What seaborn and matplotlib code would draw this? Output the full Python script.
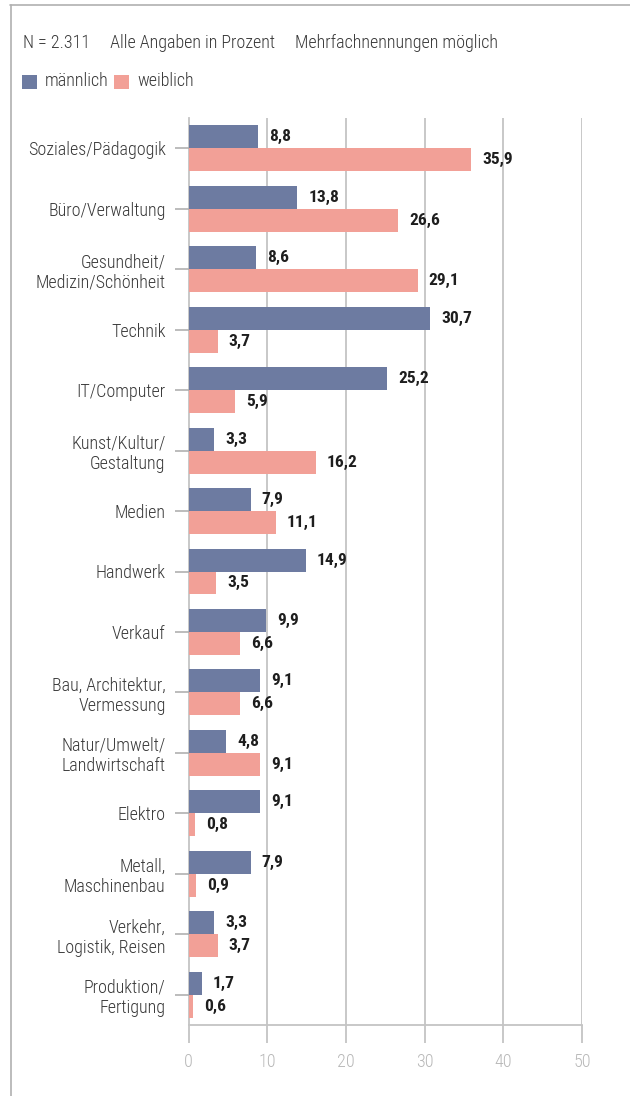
import matplotlib
matplotlib.use("Agg")
import matplotlib.pyplot as plt
from matplotlib import font_manager
from matplotlib.font_manager import FontProperties
from matplotlib.lines import Line2D
from matplotlib.patches import Rectangle
import seaborn as sns
import pandas as pd
import os

categories = [
    "Soziales/Pädagogik", "Büro/Verwaltung", "Gesundheit/\nMedizin/Schönheit",
    "Technik", "IT/Computer", "Kunst/Kultur/\nGestaltung", "Medien", "Handwerk",
    "Verkauf", "Bau, Architektur,\nVermessung", "Natur/Umwelt/\nLandwirtschaft",
    "Elektro", "Metall,\nMaschinenbau", "Verkehr,\nLogistik, Reisen",
    "Produktion/\nFertigung",
]
maennlich = [8.8, 13.8, 8.6, 30.7, 25.2, 3.3, 7.9, 14.9, 9.9, 9.1, 4.8, 9.1, 7.9, 3.3, 1.7]
weiblich = [35.9, 26.6, 29.1, 3.7, 5.9, 16.2, 11.1, 3.5, 6.6, 6.6, 9.1, 0.8, 0.9, 3.7, 0.6]
series = ["männlich", "weiblich"]
colors = ["#6d7ba1", "#f2a097"]
x_ticks = [0, 10, 20, 30, 40, 50]
subtitle = "N = 2.311     Alle Angaben in Prozent     Mehrfachnennungen möglich"


def find_font(patterns):
    files = {os.path.basename(f.fname).lower(): f.fname for f in font_manager.fontManager.ttflist}
    for p in patterns:
        for b, full in files.items():
            if b.startswith(p):
                return full
    return None


light_file = find_font(["opensanscondensed-light", "opensans_condensed-light",
                        "opensans-condensedlight", "robotocondensed-light",
                        "barlowsemicondensed-light", "asapcondensed-light",
                        "dejavusanscondensed.ttf"])
bold_file = find_font(["opensanscondensed-bold", "opensans_condensed-bold",
                       "opensans-condensedbold", "robotocondensed-bold",
                       "barlowsemicondensed-semibold", "asapcondensed-semibold",
                       "dejavusanscondensed-bold"])


def fp(size, bold=False):
    f = bold_file if bold else light_file
    if f:
        return FontProperties(fname=f, size=size)
    return FontProperties(family="DejaVu Sans", size=size,
                          weight="bold" if bold else "normal")


sns.set_theme(style="white")
plt.rcParams["font.family"] = ["DejaVu Sans"]

df = pd.DataFrame({
    "Kategorie": categories * 2,
    "Wert": maennlich + weiblich,
    "Geschlecht": [series[0]] * len(categories) + [series[1]] * len(categories),
})

fig = plt.figure(figsize=(6.3, 10.96), dpi=100)
ax = fig.add_axes([188.5 / 630, 1 - 1025 / 1096, (582 - 188.5) / 630, (1025 - 118) / 1096])

sns.barplot(data=df, y="Kategorie", x="Wert", hue="Geschlecht", orient="h",
            palette=colors, width=0.76, ax=ax, legend=False, saturation=1,
            edgecolor="none", linewidth=0)

ax.set_xlim(0, 50)
ax.set_ylim(len(categories) - 0.5, -0.5)
ax.set_xticks(x_ticks)
ax.set_xticklabels([str(t) for t in x_ticks])
ax.set_xlabel("")
ax.set_ylabel("")

grid_c = "#c4c4c4"
for t in x_ticks[1:]:
    ax.axvline(t, color=grid_c, lw=1.3, zorder=0)
for s in ["top", "right"]:
    ax.spines[s].set_visible(False)
for s in ["left", "bottom"]:
    ax.spines[s].set_color(grid_c)
    ax.spines[s].set_linewidth(1.3)
ax.spines["left"].set_zorder(0.5)

ax.tick_params(axis="x", length=13, width=1.3, color=grid_c, labelcolor="#b8b8b8",
               pad=7, bottom=True)
ax.tick_params(axis="y", length=10, width=1.1, color="#aaaaaa", labelcolor="#383838",
               pad=6.5, left=True)
for lab in ax.get_xticklabels():
    lab.set_fontproperties(fp(13))
for lab in ax.get_yticklabels():
    lab.set_fontproperties(fp(13))
    lab.set_linespacing(1.18)

for cont in ax.containers:
    vals = [r.get_width() for r in cont]
    ax.bar_label(cont, labels=[f"{v:.1f}".replace(".", ",") for v in vals],
                 padding=8, fontproperties=fp(12.5, bold=True), color="#1e1e1e")

# header
fig.text(23 / 630, 1 - 43 / 1096, subtitle, fontproperties=fp(13), color="#383838",
         va="center", ha="left")
leg_y = 1 - 89 / 1096
for i, (lab, c) in enumerate(zip(series, colors)):
    x0 = [22, 114][i]
    fig.add_artist(Rectangle((x0 / 630, leg_y), 15 / 630, 14 / 1096,
                             transform=fig.transFigure, color=c, lw=0))
    fig.text((x0 + 23) / 630, 1 - 81 / 1096, lab, fontproperties=fp(13), color="#383838",
             va="center", ha="left")

# card frame
fig.add_artist(Line2D([10 / 630, 1], [1 - 5 / 1096, 1 - 5 / 1096],
                      transform=fig.transFigure, color="#b0b0b0", lw=1.2))
fig.add_artist(Line2D([11 / 630, 11 / 630], [0, 1 - 5 / 1096],
                      transform=fig.transFigure, color="#b0b0b0", lw=1.2))

fig.savefig("out.png", dpi=100)
